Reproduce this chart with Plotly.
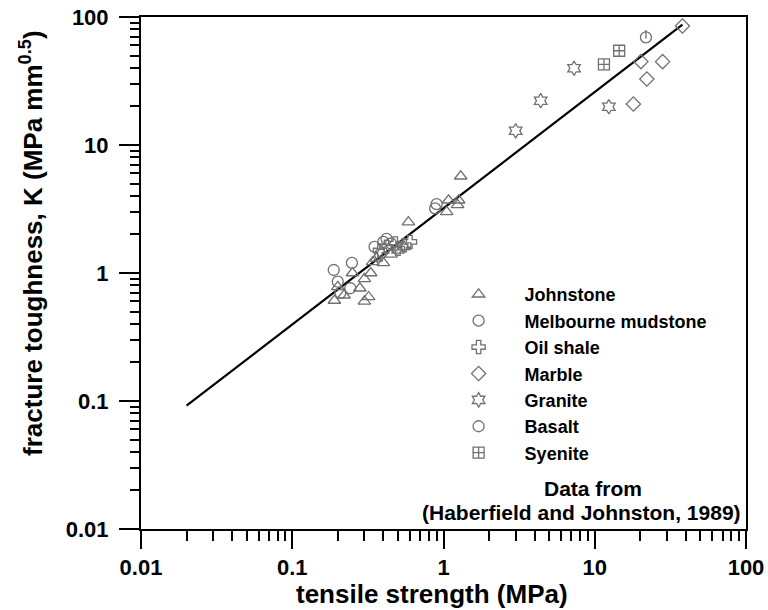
import plotly.graph_objects as go

# Tensile strength (MPa) and fracture toughness K (MPa mm^0.5) by rock type
johnstone_ts = [0.19, 0.20, 0.22, 0.25, 0.28, 0.30, 0.32, 0.34, 0.36, 0.30, 0.33, 0.40, 0.45, 0.50, 0.55, 0.586, 1.05, 1.08, 1.24, 1.26, 1.30]
johnstone_k = [0.61, 0.78, 0.67, 1.0, 0.76, 0.60, 0.65, 1.22, 1.3, 0.9, 1.0, 1.2, 1.4, 1.5, 1.6, 2.5, 3.0, 3.7, 3.4, 3.7, 5.7]

mudstone_ts = [0.188, 0.20, 0.208, 0.242, 0.248, 0.35, 0.38, 0.40, 0.42, 0.45, 0.88, 0.90]
mudstone_k = [1.055, 0.855, 0.70, 0.76, 1.20, 1.6, 1.4, 1.75, 1.85, 1.7, 3.2, 3.45]

oilshale_ts = [0.38, 0.42, 0.48, 0.50, 0.55, 0.60]
oilshale_k = [1.5, 1.6, 1.7, 1.55, 1.65, 1.75]

marble_ts = [18.0, 20.2, 22.1, 28.1, 38.0]
marble_k = [20.9, 44.8, 32.8, 44.8, 85.0]

granite_ts = [3.0, 4.39, 7.3, 12.4]
granite_k = [12.9, 22.2, 39.8, 19.9]

basalt_ts = [21.8]
basalt_k = [69.4]

syenite_ts = [11.5, 14.5]
syenite_k = [42.7, 54.5]

# Best-fit trend line end points
fit_ts = [0.02, 38.0]
fit_k = [0.092, 87.0]

decade_vals = [0.01, 0.1, 1, 10, 100]
decade_text = ["0.01", "0.1", "1", "10", "100"]
minor_vals = [m * d for d in [0.01, 0.1, 1, 10] for m in range(2, 10)]

FONT = "Liberation Sans, Arial, sans-serif"
MARK = "#707070"

fig = go.Figure()

fig.add_trace(go.Scatter(x=fit_ts, y=fit_k, mode="lines",
                         line=dict(color="black", width=2.2), showlegend=False))

series = [
    ("Johnstone", johnstone_ts, johnstone_k, "triangle-up-open"),
    ("Melbourne mudstone", mudstone_ts, mudstone_k, "circle-open"),
    ("Oil shale", oilshale_ts, oilshale_k, "cross-open"),
    ("Marble", marble_ts, marble_k, "diamond-open"),
    ("Granite", granite_ts, granite_k, "hexagram-open"),
    ("Basalt", basalt_ts, basalt_k, "circle-open"),
    ("Syenite", syenite_ts, syenite_k, "square-cross-open"),
]
for name, xs, ys, sym in series:
    fig.add_trace(go.Scatter(
        x=xs, y=ys, mode="markers", name=name, legendgroup=name,
        marker=dict(symbol=sym, size=11, color=MARK, line=dict(color=MARK, width=1.3)),
    ))
    if name == "Basalt":
        # short vertical stroke in the upper half of the basalt symbol
        fig.add_trace(go.Scatter(
            x=xs, y=[v * 10 ** (3.0 / 128) for v in ys], mode="markers",
            legendgroup=name, showlegend=False, hoverinfo="skip",
            marker=dict(symbol="line-ns-open", size=6, color=MARK,
                        line=dict(color=MARK, width=1.3)),
        ))

axis_common = dict(
    type="log", range=[-2, 2], showgrid=False, zeroline=False, automargin=False,
    showline=True, linecolor="black", linewidth=2, mirror=True,
    ticks="outside", tickwidth=2, tickcolor="black",
    tickmode="array", tickvals=decade_vals, ticktext=decade_text,
    tickfont=dict(family=FONT, size=22, color="black", weight="bold"),
)

fig.update_xaxes(**axis_common, ticklen=18, ticklabelstandoff=0,
                 minor=dict(ticks="outside", ticklen=10, tickwidth=1.5, tickcolor="black",
                            tickmode="array", tickvals=minor_vals, showgrid=False))
fig.update_yaxes(**axis_common, ticklen=20, ticklabelstandoff=6,
                 minor=dict(ticks="outside", ticklen=9, tickwidth=1.5, tickcolor="black",
                            tickmode="array", tickvals=minor_vals, showgrid=False))

# Axis titles
fig.add_annotation(xref="paper", yref="paper", x=0.481, y=-0.127,
                   xanchor="center", yanchor="middle", showarrow=False,
                   text="<b>tensile strength (MPa)</b>",
                   font=dict(family=FONT, size=26, color="black"))
fig.add_annotation(xref="paper", yref="paper", x=-0.18, y=0.557,
                   xanchor="center", yanchor="middle", showarrow=False, textangle=-90,
                   text="<b>fracture toughness, K (MPa mm<sup>0.5</sup>)</b>",
                   font=dict(family=FONT, size=26, color="black"))

# Data source note
fig.add_annotation(xref="paper", yref="paper", x=0.747, y=0.080,
                   xanchor="center", yanchor="middle", showarrow=False,
                   text="<b>Data from</b>",
                   font=dict(family=FONT, size=21, color="black"))
fig.add_annotation(xref="paper", yref="paper", x=0.995, y=0.033,
                   xanchor="right", yanchor="middle", showarrow=False,
                   text="<b>(Haberfield and Johnston, 1989)</b>",
                   font=dict(family=FONT, size=21, color="black"))

fig.update_layout(
    width=768, height=610,
    margin=dict(l=141, r=22, t=17, b=81),
    paper_bgcolor="white", plot_bgcolor="white",
    legend=dict(x=0.482, y=0.494, xanchor="left", yanchor="top",
                bgcolor="rgba(0,0,0,0)", traceorder="normal", itemwidth=82,
                font=dict(family=FONT, size=18, color="black", weight="bold")),
)

fig.write_html("out.html")
